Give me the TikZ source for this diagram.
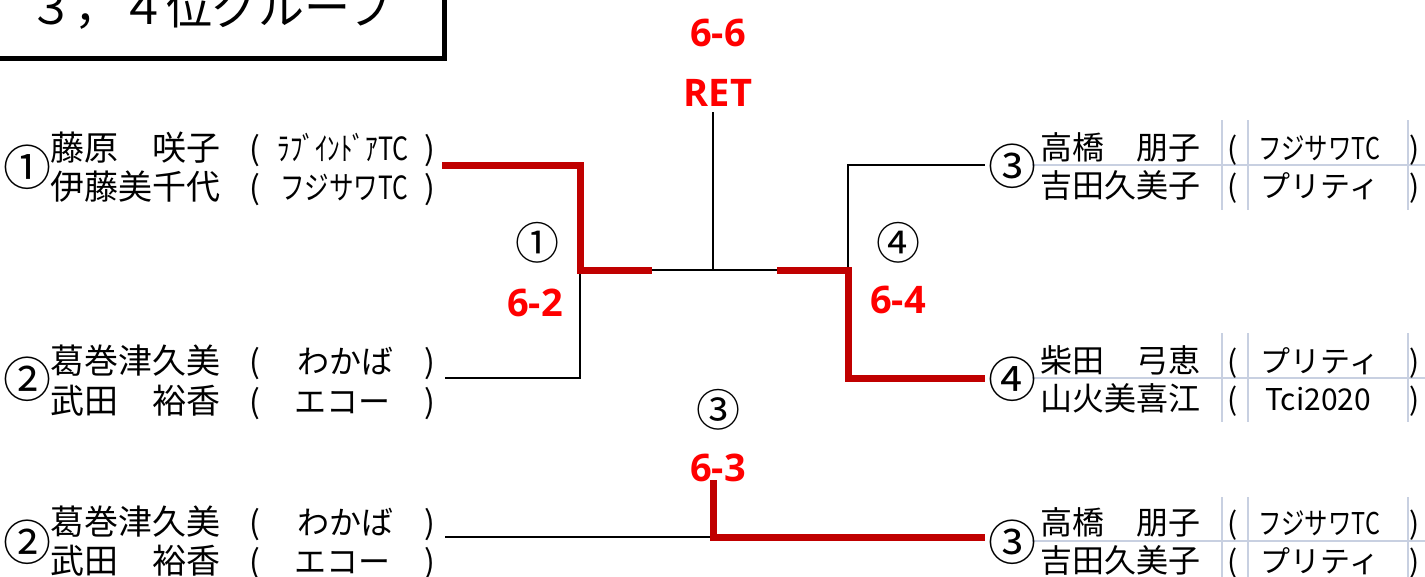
\documentclass[tikz,border=0pt]{standalone}
\usepackage{fontspec}
\setmainfont{Noto Sans CJK JP}
\newfontfamily\scorefont{Open Sans}
\usepackage{graphicx}
\usepackage{tikz}
\usetikzlibrary{positioning}

\definecolor{winred}{RGB}{192,0,0}
\definecolor{scorered}{RGB}{255,0,0}
\definecolor{gridc}{RGB}{200,208,225}

% squeeze a club name to a given width
\newcommand{\fitclub}[2]{\resizebox{#1pt}{\height}{#2}}

\begin{document}
\begin{tikzpicture}[
  x=1pt, y=-1pt,
  every node/.style={inner sep=0pt},
  entryL/.style={anchor=base west, font=\fontsize{34}{40}\selectfont},
  entryR/.style={anchor=base west, font=\fontsize{32}{38}\selectfont},
  clubL/.style={anchor=base, font=\fontsize{32}{38}\selectfont},
  clubR/.style={anchor=base, font=\fontsize{30}{36}\selectfont},
  seed/.style={font=\fontsize{48}{52}\selectfont},
  midseed/.style={font=\fontsize{44}{48}\selectfont},
  score/.style={font=\scorefont\bfseries\fontsize{38}{44}\selectfont, text=scorered},
  win/.style={winred, line width=7pt},
  lose/.style={black, line width=2.5pt},
  gridline/.style={gridc, line width=1.6pt}
]
\useasboundingbox (0,0) rectangle (1425,576);

% Title box
\draw[line width=5pt] (-20,-20) rectangle (444,58);
\node[anchor=base west, font=\fontsize{46}{50}\selectfont] (title) at (28,24) {３，４位グループ};

% Grid on the right side
\foreach \yc/\ya/\yb in {165/120/210, 378/333/422, 541/497/580}{
  \draw[gridline] (1032,\yc) -- (1425,\yc);
  \foreach \xv in {1222,1248,1408}
    \draw[gridline] (\xv,\ya) -- (\xv,\yb);
}

% Left entries
\node[seed] (s1) at (28,167) {①};
\node[entryL] (n1a) at (50,160) {藤原　咲子};
\node[entryL] (n1b) at (50,199) {伊藤美千代};
\node[clubL] (p1a) at (255,160) {(};
\node[clubL] (c1a) at (343,160) {\fitclub{131}{ﾗﾌﾞｲﾝﾄﾞｱTC}};
\node[clubL] (q1a) at (430,160) {)};
\node[clubL] (p1b) at (255,199) {(};
\node[clubL] (c1b) at (344,199) {\fitclub{128}{フジサワTC}};
\node[clubL] (q1b) at (430,199) {)};

\node[seed] (s2) at (28,379) {②};
\node[entryL] (n2a) at (50,373) {葛巻津久美};
\node[entryL] (n2b) at (50,413) {武田　裕香};
\node[clubL] (p2a) at (255,373) {(};
\node[clubL] (c2a) at (345,373) {わかば};
\node[clubL] (q2a) at (430,373) {)};
\node[clubL] (p2b) at (255,413) {(};
\node[clubL] (c2b) at (342,413) {エコー};
\node[clubL] (q2b) at (430,413) {)};

\node[seed] (s5) at (28,542) {②};
\node[entryL] (n5a) at (50,534) {葛巻津久美};
\node[entryL] (n5b) at (50,573) {武田　裕香};
\node[clubL] (p5a) at (255,534) {(};
\node[clubL] (c5a) at (345,534) {わかば};
\node[clubL] (q5a) at (430,534) {)};
\node[clubL] (p5b) at (255,573) {(};
\node[clubL] (c5b) at (342,573) {エコー};
\node[clubL] (q5b) at (430,573) {)};

% Right entries
\node[seed] (s3) at (1012,166) {③};
\node[entryR] (n3a) at (1040,159) {高橋　朋子};
\node[entryR] (n3b) at (1040,197) {吉田久美子};
\node[clubR] (p3a) at (1233,159) {(};
\node[clubR] (c3a) at (1319,159) {\fitclub{122}{フジサワTC}};
\node[clubR] (q3a) at (1415,159) {)};
\node[clubR] (p3b) at (1233,197) {(};
\node[clubR] (c3b) at (1320,197) {プリティ};
\node[clubR] (q3b) at (1415,197) {)};

\node[seed] (s4) at (1012,379) {④};
\node[entryR] (n4a) at (1040,372) {柴田　弓恵};
\node[entryR] (n4b) at (1040,410) {山火美喜江};
\node[clubR] (p4a) at (1233,372) {(};
\node[clubR] (c4a) at (1320,372) {プリティ};
\node[clubR] (q4a) at (1415,372) {)};
\node[clubR] (p4b) at (1233,410) {(};
\node[clubR] (c4b) at (1318,410) {Tci2020};
\node[clubR] (q4b) at (1415,410) {)};

\node[seed] (s6) at (1012,542) {③};
\node[entryR] (n6a) at (1040,534) {高橋　朋子};
\node[entryR] (n6b) at (1040,572) {吉田久美子};
\node[clubR] (p6a) at (1233,534) {(};
\node[clubR] (c6a) at (1319,534) {\fitclub{122}{フジサワTC}};
\node[clubR] (q6a) at (1415,534) {)};
\node[clubR] (p6b) at (1233,572) {(};
\node[clubR] (c6b) at (1320,572) {プリティ};
\node[clubR] (q6b) at (1415,572) {)};

% Bracket points
\coordinate (e1) at (442,165);
\coordinate (e2) at (445,378);
\coordinate (j1) at (580,270);
\coordinate (m1) at (652,270);
\coordinate (ctr) at (713,270);
\coordinate (top) at (713,112);
\coordinate (m2) at (777,270);
\coordinate (j2) at (848,270);
\coordinate (e3) at (985,165);
\coordinate (e4) at (985,378);
\coordinate (e5) at (445,537);
\coordinate (bm) at (713,537);
\coordinate (bt) at (713,480);
\coordinate (e6) at (985,537);

% Losing lines
\draw[lose] (e2) -| (j1);
\draw[lose] (m1) -- (m2);
\draw[lose] (ctr) -- (top);
\draw[lose] (j2) |- (e3);
\draw[lose] (e5) -- (bm);

% Winning lines
\draw[win] (e1) -| (j1) -- (m1);
\draw[win] (m2) -- (j2) |- (e4);
\draw[win] (bt) |- (e6);

% Match labels
\node[score] (f1) at (718,33) {6-6};
\node[score] (f2) at (718,93) {RET};
\node[midseed] (k1) at (537,243) {①};
\node[score] (r1) at (535,303) {6-2};
\node[midseed] (k4) at (898,243) {④};
\node[score] (r4) at (898,300) {6-4};
\node[midseed] (k3) at (718,410) {③};
\node[score] (r3) at (718,468) {6-3};

\end{tikzpicture}
\end{document}
